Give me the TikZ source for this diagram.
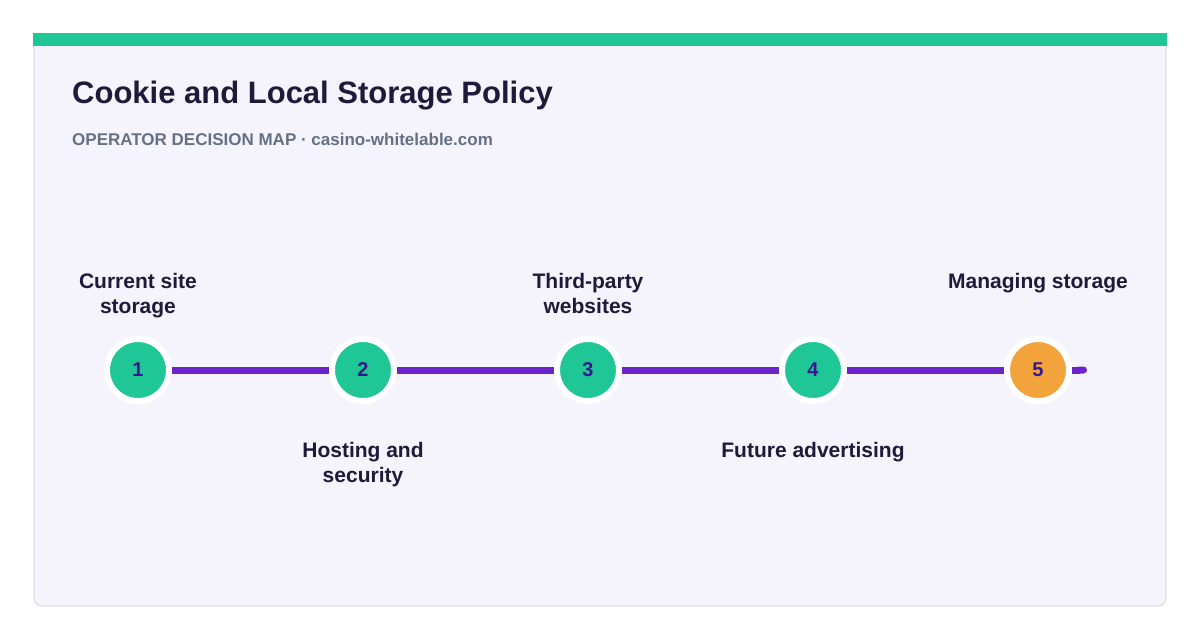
\documentclass[tikz,border=0pt]{standalone}
\usepackage{fontspec}
\setmainfont{Liberation Sans}
\usetikzlibrary{positioning, arrows.meta}
\definecolor{stepgreen}{HTML}{1FC796}
\definecolor{steporange}{HTML}{F3A33C}
\definecolor{trackpurple}{HTML}{6B24CC}
\definecolor{numink}{HTML}{34188F}
\definecolor{titleink}{HTML}{1E1B3A}
\definecolor{subink}{HTML}{667085}
\definecolor{cardbg}{HTML}{F5F3FB}
\definecolor{cardline}{HTML}{DEDDE6}
\begin{document}
\begin{tikzpicture}[x=1pt, y=-1pt, node distance=225pt, on grid,
    stepdot/.style={circle, draw=white, line width=6pt, fill=stepgreen, minimum size=62pt, inner sep=0pt,
      font=\bfseries\fontsize{20}{20}\selectfont, text=numink},
    steplabel/.style={align=center, inner sep=0pt, font=\bfseries\fontsize{21}{25}\selectfont, text=titleink},
    trackline/.style={draw=trackpurple, line width=7pt}]
  \useasboundingbox (0,0) rectangle (1200,640);
  \draw[draw=cardline, fill=cardbg, line width=1.3pt, rounded corners=8pt] (34,34) rectangle (1166,606);
  \fill[stepgreen] (33.4,33.4) rectangle (1166.6,46);
  \node[anchor=base west, inner sep=0pt, text=titleink, font=\bfseries\fontsize{31}{31}\selectfont] (title) at (72,103) {Cookie and Local Storage Policy};
  \node[anchor=base west, inner sep=0pt, text=subink, font=\bfseries\fontsize{17}{17}\selectfont] (subtitle) at (72,145) {OPERATOR DECISION MAP · casino-whitelable.com};
  \node[stepdot] (n1) at (138,370) {1};
  \node[stepdot, right=of n1] (n2) {2};
  \node[stepdot, right=of n2] (n3) {3};
  \node[stepdot, right=of n3] (n4) {4};
  \node[stepdot, fill=steporange, right=of n4] (n5) {5};
  \coordinate[right=49pt of n5] (trackend);
  \draw[trackline] (n1) -- (n2) (n2) -- (n3) (n3) -- (n4) (n4) -- (n5);
  \draw[trackline, -{Round Cap[]}] (n5) -- (trackend);
  \node[steplabel, anchor=north] (l1) at ([yshift=97pt]n1.center) {Current site\\storage};
  \node[steplabel, anchor=north] (l2) at ([yshift=-72pt]n2.center) {Hosting and\\security};
  \node[steplabel, anchor=north] (l3) at ([yshift=97pt]n3.center) {Third-party\\websites};
  \node[steplabel, anchor=north] (l4) at ([yshift=-72pt]n4.center) {Future advertising};
  \node[steplabel, anchor=north] (l5) at ([yshift=97pt]n5.center) {Managing storage};
\end{tikzpicture}
\end{document}
